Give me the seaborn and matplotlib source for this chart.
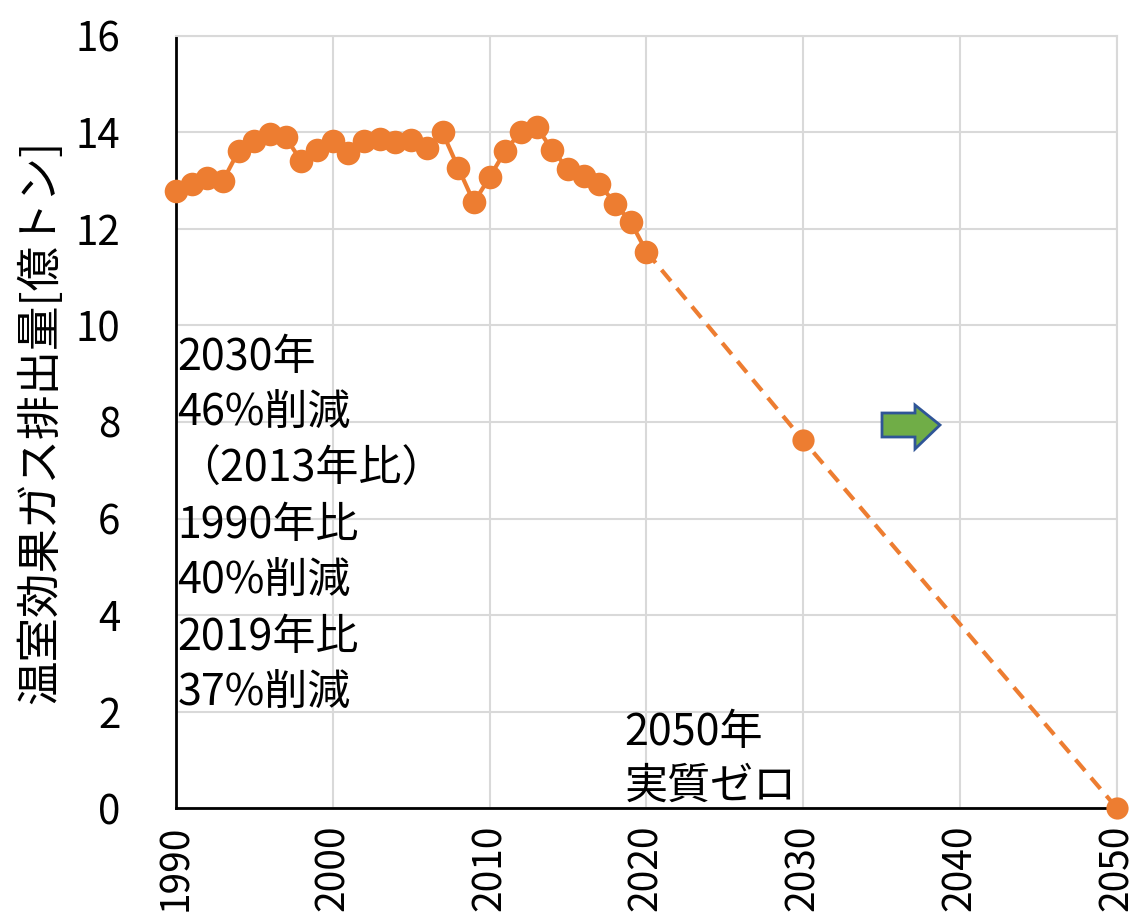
import matplotlib
matplotlib.use("Agg")
import matplotlib.pyplot as plt
import matplotlib.patches as mpatches
import seaborn as sns
import pandas as pd

# 実績値 (億トン CO2換算)
years = list(range(1990, 2021))
emissions = [12.78, 12.93, 13.05, 13.00, 13.62, 13.82, 13.97, 13.90, 13.40, 13.64,
             13.82, 13.58, 13.82, 13.86, 13.80, 13.84, 13.67, 14.00, 13.27, 12.55,
             13.07, 13.62, 14.02, 14.12, 13.63, 13.25, 13.10, 12.94, 12.52, 12.15,
             11.53]
# 目標
target_years = [2020, 2030, 2050]
target_values = [11.53, 7.62, 0.0]

x_ticks = [1990, 2000, 2010, 2020, 2030, 2040, 2050]
y_ticks = [0, 2, 4, 6, 8, 10, 12, 14, 16]

note_2030 = "2030年\n46%削減\n（2013年比）\n1990年比\n40%削減\n2019年比\n37%削減"
note_2050 = "2050年\n実質ゼロ"
ylabel = "温室効果ガス排出量[億トン]"

sns.set_style("whitegrid")
jp_font = ["Noto Sans CJK JP", "DejaVu Sans"]
plt.rcParams["font.family"] = jp_font
plt.rcParams["text.color"] = "black"
plt.rcParams["axes.labelcolor"] = "black"
plt.rcParams["xtick.color"] = "black"
plt.rcParams["ytick.color"] = "black"

orange = "#ED7D31"
df_actual = pd.DataFrame({"year": years, "value": emissions})
df_target = pd.DataFrame({"year": target_years, "value": target_values})

fig = plt.figure(figsize=(11.35, 9.22), dpi=100)
ax = fig.add_axes([0.155, 0.1236, 0.829, 0.8374])

# 目標線 (破線)
sns.lineplot(data=df_target, x="year", y="value", ax=ax, color=orange,
             linewidth=3, linestyle=(0, (3.5, 2.2)), marker="o", markersize=16,
             markeredgewidth=0, clip_on=False, zorder=3)
# 実績線
sns.lineplot(data=df_actual, x="year", y="value", ax=ax, color=orange,
             linewidth=3, marker="o", markersize=17, markeredgewidth=0,
             clip_on=False, zorder=4)

ax.set_xlim(1990, 2050)
ax.set_ylim(0, 16)
ax.set_xticks(x_ticks)
ax.set_yticks(y_ticks)
ax.tick_params(axis="x", rotation=90, length=0, pad=12, labelsize=28)
ax.tick_params(axis="y", length=0, pad=40, labelsize=29)
ax.set_xlabel("")
ax.set_ylabel(ylabel, fontsize=32)
ax.yaxis.set_label_coords(-0.12, 0.5)
ax.grid(color="#D9D9D9", linewidth=1.5)
for side in ["top", "right"]:
    ax.spines[side].set_color("#D9D9D9")
    ax.spines[side].set_linewidth(1.5)
for side in ["left", "bottom"]:
    ax.spines[side].set_color("black")
    ax.spines[side].set_linewidth(2)

ax.text(1990.1, 9.78, note_2030, fontsize=31, va="top", ha="left",
        linespacing=1.35)
ax.text(2018.6, -0.02, note_2050, fontsize=31, va="bottom", ha="left",
        linespacing=1.3)

# 緑の矢印 (図の座標)
W, H = 1135, 922
pts = [(882, 413), (915, 413), (915, 405), (940, 425), (915, 449), (915, 437), (882, 437)]
arrow = mpatches.Polygon([(px / W, 1 - py / H) for px, py in pts], closed=True,
                         facecolor="#70AD47", edgecolor="#2F5597", linewidth=2,
                         transform=fig.transFigure)
fig.patches.append(arrow)

fig.savefig("out.png", dpi=100)
